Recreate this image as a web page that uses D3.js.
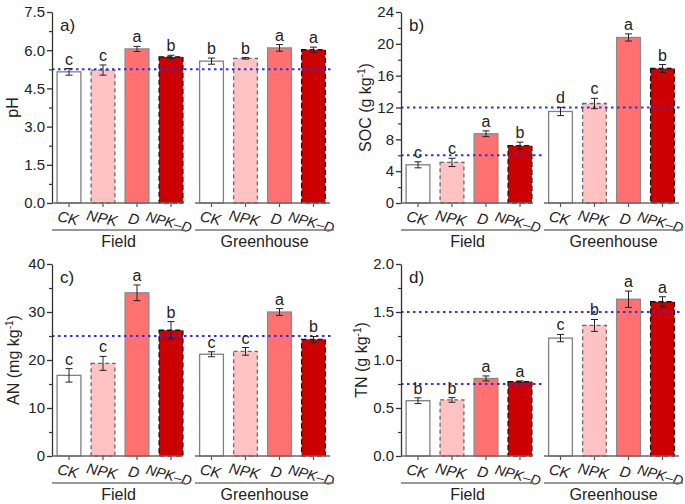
<!DOCTYPE html>
<html><head><meta charset="utf-8">
<script src="https://cdn.jsdelivr.net/npm/d3@7"></script>
<style>
html,body{margin:0;padding:0;background:#fff;}
text{font-family:"Liberation Sans",Arial,Helvetica,sans-serif;fill:#222;}
</style></head>
<body><svg id="c" width="685" height="504"></svg>
<script>
// ---------- data ----------
const treatments = ["CK","NPK","D","NPK–D"];
const sites = ["Field","Greenhouse"];

const pHField = [5.15,5.22,6.05,5.74];
const pHFieldErr = [0.13,0.2,0.1,0.06];
const pHGreen = [5.57,5.68,6.09,6.02];
const pHGreenErr = [0.12,0.03,0.13,0.1];
const pHFieldLetters = ["c","c","a","b"];
const pHGreenLetters = ["b","b","a","a"];
const pHTicks = [0,1.5,3.0,4.5,6.0,7.5];
const pHRef = [5.25];

const socField = [4.8,5.1,8.7,7.2];
const socFieldErr = [0.38,0.52,0.36,0.45];
const socGreen = [11.5,12.5,20.8,16.9];
const socGreenErr = [0.52,0.65,0.45,0.5];
const socFieldLetters = ["c","c","a","b"];
const socGreenLetters = ["d","c","a","b"];
const socTicks = [0,4,8,12,16,20,24];
const socRefField = [6];
const socRef = [12];

const anField = [16.8,19.3,34.0,26.2];
const anFieldErr = [1.4,1.45,1.63,1.8];
const anGreen = [21.2,21.8,30.0,24.3];
const anGreenErr = [0.52,0.8,0.7,0.6];
const anFieldLetters = ["c","c","a","b"];
const anGreenLetters = ["c","c","a","b"];
const anTicks = [0,10,20,30,40];
const anRef = [25];

const tnField = [0.576,0.584,0.808,0.775];
const tnFieldErr = [0.03,0.024,0.026,0.007];
const tnGreen = [1.228,1.36,1.633,1.607];
const tnGreenErr = [0.038,0.062,0.085,0.052];
const tnFieldLetters = ["b","b","a","a"];
const tnGreenLetters = ["c","b","a","a"];
const tnTicks = [0,0.5,1.0,1.5,2.0];
const tnRefField = [0.75];
const tnRef = [1.5];

// ---------- styles ----------
const fills = ["#ffffff","#ffc2c2","#ff7171","#cc0000"];
const strokes = ["#808080","#6a6a6a","#8a8a8a","#111111"];
const dashes = [null,"4,3",null,"5,3"];

const svg = d3.select("#c");

const panels = [
  {label:"a)", x0:52, yTop:12, yBot:203, ticks:pHTicks, fmt:d3.format(".1f"), title:["pH"], tx:12,
   vals:[pHField,pHGreen], errs:[pHFieldErr,pHGreenErr], letters:[pHFieldLetters,pHGreenLetters],
   refAll:pHRef, refField:[]},
  {label:"b)", x0:401, yTop:12, yBot:203, ticks:socTicks, fmt:d3.format("d"), title:["SOC (g kg","-1",")"], tx:365,
   vals:[socField,socGreen], errs:[socFieldErr,socGreenErr], letters:[socFieldLetters,socGreenLetters],
   refAll:socRef, refField:socRefField},
  {label:"c)", x0:52, yTop:264, yBot:456, ticks:anTicks, fmt:d3.format("d"), title:["AN (mg kg","-1",")"], tx:13,
   vals:[anField,anGreen], errs:[anFieldErr,anGreenErr], letters:[anFieldLetters,anGreenLetters],
   refAll:anRef, refField:[]},
  {label:"d)", x0:401, yTop:264, yBot:456, ticks:tnTicks, fmt:d3.format(".1f"), title:["TN (g kg","-1",")"], tx:361,
   vals:[tnField,tnGreen], errs:[tnFieldErr,tnGreenErr], letters:[tnFieldLetters,tnGreenLetters],
   refAll:tnRef, refField:tnRefField}
];

panels.forEach(p => {
  const g = svg.append("g");
  const tickList = p.ticks;
  const ymax = tickList[tickList.length-1];
  const y = d3.scaleLinear().domain([0, ymax]).range([p.yBot, p.yTop]);
  const stepT = tickList[1]-tickList[0];
  const minor = d3.range(0, tickList.length-1).map(i => tickList[i] + stepT/2);

  const xs = [
    d3.scaleBand().domain(treatments).range([p.x0, p.x0+136]).paddingInner(0.3).paddingOuter(0.15),
    d3.scaleBand().domain(treatments).range([p.x0+142.5, p.x0+278.5]).paddingInner(0.3).paddingOuter(0.15)
  ];
  const segs = [[p.x0, p.x0+131],[p.x0+143, p.x0+278]];

  // bars
  sites.forEach((s, si) => {
    const x = xs[si];
    const vals = p.vals[si];
    treatments.forEach((t, ti) => {
      g.append("rect")
        .attr("x", x(t)).attr("width", x.bandwidth())
        .attr("y", y(vals[ti])).attr("height", y(0)-y(vals[ti]))
        .attr("fill", fills[ti]).attr("stroke", strokes[ti]).attr("stroke-width", 1.3)
        .attr("stroke-dasharray", dashes[ti]);
    });
  });

  // reference lines
  p.refField.forEach(v => {
    g.append("line").attr("x1", p.x0).attr("x2", p.x0+141).attr("y1", y(v)).attr("y2", y(v))
      .attr("stroke", "#3030dd").attr("stroke-width", 2).attr("stroke-dasharray", "2.5,3.5");
  });
  p.refAll.forEach(v => {
    g.append("line").attr("x1", p.x0).attr("x2", p.x0+282).attr("y1", y(v)).attr("y2", y(v))
      .attr("stroke", "#3030dd").attr("stroke-width", 2).attr("stroke-dasharray", "2.5,3.5");
  });

  // error bars and letters
  sites.forEach((s, si) => {
    const x = xs[si];
    const vals = p.vals[si], errs = p.errs[si], lets = p.letters[si];
    treatments.forEach((t, ti) => {
      const cx = x(t) + x.bandwidth()/2;
      const hi = y(vals[ti]+errs[ti]), lo = y(vals[ti]-errs[ti]);
      g.append("line").attr("x1", cx).attr("x2", cx).attr("y1", hi).attr("y2", lo).attr("stroke", "#222").attr("stroke-width", 1);
      [hi, lo].forEach(yy => g.append("line").attr("x1", cx-3.5).attr("x2", cx+3.5).attr("y1", yy).attr("y2", yy).attr("stroke", "#222").attr("stroke-width", 1));
      g.append("text").attr("x", cx).attr("y", hi-4).attr("text-anchor", "middle")
        .attr("font-size", 16).text(lets[ti]);
    });
  });

  // y axis
  const ya = g.append("g").attr("transform", `translate(${p.x0},0)`)
    .call(d3.axisLeft(y).tickValues(tickList).tickFormat(p.fmt).tickSize(5).tickPadding(2).tickSizeOuter(0));
  ya.select(".domain").attr("stroke", "#333").attr("stroke-width", 1.3);
  ya.selectAll(".tick line").attr("stroke", "#333").attr("stroke-width", 1.3);
  ya.selectAll(".tick text").attr("font-size", 15).attr("fill", "#222")
    .attr("font-family", "'Liberation Sans',Arial,sans-serif");
  const ym = g.append("g").attr("transform", `translate(${p.x0},0)`)
    .call(d3.axisLeft(y).tickValues(minor).tickFormat("").tickSize(3).tickSizeOuter(0));
  ym.select(".domain").remove();
  ym.selectAll(".tick line").attr("stroke", "#333").attr("stroke-width", 1.2);

  // x axes
  sites.forEach((s, si) => {
    const x = xs[si];
    const xa = g.append("g").attr("transform", `translate(0,${p.yBot})`)
      .call(d3.axisBottom(x).tickSize(4).tickSizeOuter(0));
    xa.select(".domain").remove();
    xa.selectAll(".tick line").attr("stroke", "#555").attr("stroke-width", 1.2);
    xa.selectAll(".tick text")
      .attr("y", 0).attr("dy", "0.35em").attr("font-style", "italic")
      .attr("font-size", d => d === "NPK–D" ? 14 : 15)
      .attr("fill", "#222").attr("font-family", "'Liberation Sans',Arial,sans-serif")
      .attr("text-anchor", "middle")
      .attr("transform", d => d === "NPK–D" ? "translate(-2,19) rotate(15)" : (d === "D" ? "translate(-3,16) rotate(12)" : "translate(-1,15) rotate(12)"));
    g.append("line").attr("x1", segs[si][0]).attr("x2", segs[si][1]).attr("y1", p.yBot).attr("y2", p.yBot)
      .attr("stroke", "#6a6a6a").attr("stroke-width", 1.5);
    // group line and label
    const gl = si === 0 ? [p.x0, p.x0+133] : [p.x0+143, p.x0+282];
    g.append("line").attr("x1", gl[0]).attr("x2", gl[1]).attr("y1", p.yBot+27).attr("y2", p.yBot+27)
      .attr("stroke", "#777").attr("stroke-width", 1.5);
    g.append("text").attr("x", (gl[0]+gl[1])/2).attr("y", p.yBot+44).attr("text-anchor", "middle")
      .attr("font-size", 16).text(s);
  });

  // panel label
  g.append("text").attr("x", p.x0+8).attr("y", p.yTop+19).attr("font-size", 17).text(p.label);

  // y title
  const ty = g.append("text").attr("transform", `translate(${p.tx},${(p.yTop+p.yBot)/2}) rotate(-90)`)
    .attr("text-anchor", "middle").attr("dy", "0.35em").attr("font-size", 16);
  ty.append("tspan").text(p.title[0]);
  if (p.title.length > 1) {
    ty.append("tspan").attr("font-size", 10).attr("dy", "-0.55em").text(p.title[1]);
    ty.append("tspan").attr("dy", "0.35em").text(p.title[2]);
  }
});
</script></body></html>
